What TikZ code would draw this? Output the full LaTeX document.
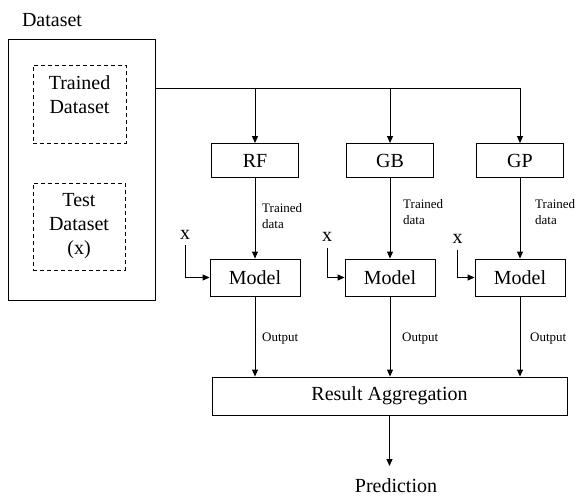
\documentclass[tikz,border=0pt]{standalone}
\usepackage{fontspec}
\setmainfont{Liberation Serif}
\usetikzlibrary{arrows.meta}
\begin{document}
\begin{tikzpicture}[x=1pt,y=-1pt,
  box/.style={draw, line width=0.9pt, inner sep=0pt, font=\fontsize{20}{24}\selectfont},
  dbox/.style={draw, dash pattern=on 4pt off 3pt, line width=0.9pt, inner sep=0pt},
  lbl/.style={font=\fontsize{20}{24}\selectfont, inner sep=0pt, align=center},
  small/.style={font=\fontsize{13}{16}\selectfont, align=left, inner sep=0pt, anchor=west},
  xin/.style={font=\fontsize{20}{24}\selectfont, inner sep=0pt, outer sep=6pt},
  arr/.style={-{Triangle[length=7pt,width=6pt]}, line width=0.9pt},
  ln/.style={line width=0.9pt}]
\useasboundingbox (0,0) rectangle (576,498);

% dataset
\node[lbl] (title) at (52,20) {Dataset};
\node[box, minimum width=147pt, minimum height=261pt] (ds) at (81.5,169.5) {};
\node[dbox, minimum width=93pt, minimum height=78pt] (tr) at (79.5,104) {};
\node[lbl] (trt) at (79.5,95) {Trained\\Dataset};
\node[dbox, minimum width=92pt, minimum height=87pt] (te) at (79,226.5) {};
\node[lbl] (tet) at (79,226) {Test\\Dataset\\(x)};

% methods
\node[box, minimum width=87pt, minimum height=34pt] (rf) at (255,160.5) {RF};
\node[box, minimum width=87pt, minimum height=34pt] (gb) at (390,160.5) {GB};
\node[box, minimum width=87pt, minimum height=34pt] (gp) at (520,160.5) {GP};

% models
\node[box, minimum width=90pt, minimum height=37pt] (m1) at (255,277.5) {Model};
\node[box, minimum width=90pt, minimum height=37pt] (m2) at (390,277.5) {Model};
\node[box, minimum width=90pt, minimum height=37pt] (m3) at (520,277.5) {Model};

% aggregation
\node[box, minimum width=355pt, minimum height=38pt] (agg) at (389.5,396) {Result Aggregation};
\node[lbl, anchor=north, inner ysep=12pt, text height=14pt, text depth=4pt] (pred) at (396,466) {Prediction};

% bus
\coordinate (bus) at (0,88);
\draw[ln] (ds.east |- bus) -- (gp.north |- bus);
\draw[arr] (rf.north |- bus) -- (rf.north);
\draw[arr] (gb.north |- bus) -- (gb.north);
\draw[arr] (gp.north |- bus) -- (gp.north);

% trained data
\draw[arr] (rf.south) -- (m1.north);
\draw[arr] (gb.south) -- (m2.north);
\draw[arr] (gp.south) -- (m3.north);
\node[small] (td1) at (262,216) {Trained\\data};
\node[small] (td2) at (403,212) {Trained\\data};
\node[small] (td3) at (535,212) {Trained\\data};

% x inputs
\node[xin] (x1) at (185,234.5) {x};
\node[xin] (x2) at (327,237) {x};
\node[xin] (x3) at (457.5,239) {x};
\draw[arr] (x1.south) |- (m1.west);
\draw[arr] (x2.south) |- (m2.west);
\draw[arr] (x3.south) |- (m3.west);

% outputs
\draw[arr] (m1.south) -- (m1.south |- agg.north);
\draw[arr] (m2.south) -- (m2.south |- agg.north);
\draw[arr] (m3.south) -- (m3.south |- agg.north);
\node[small] (o1) at (262,339) {Output};
\node[small] (o2) at (402,339) {Output};
\node[small] (o3) at (530,339) {Output};

% prediction
\draw[arr] (agg.south) -- (agg.south |- pred.north);
\end{tikzpicture}
\end{document}
